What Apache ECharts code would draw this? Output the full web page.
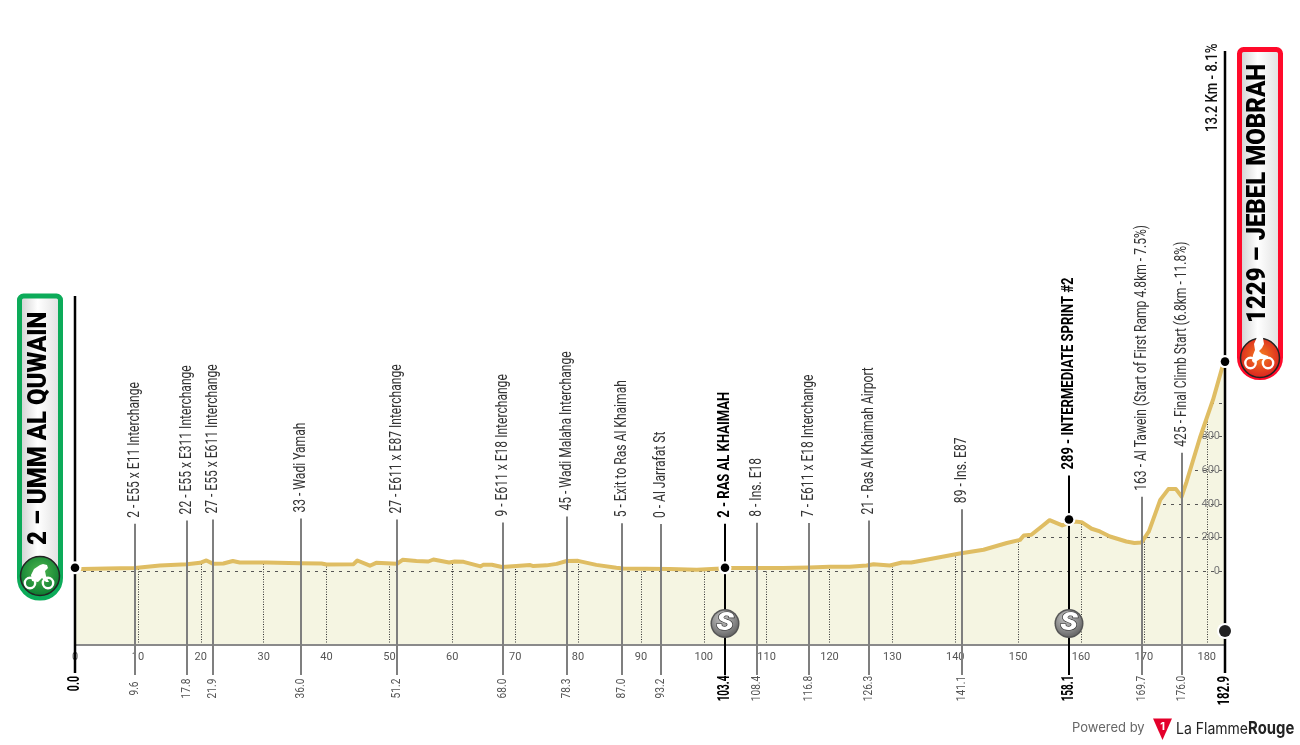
<!DOCTYPE html>
<html><head><meta charset="utf-8">
<style>html,body{margin:0;padding:0;background:#fff}#c{width:1300px;height:745px}</style>
<script src="https://cdn.jsdelivr.net/npm/echarts@6/dist/echarts.min.js"></script>
</head><body><div id="c"></div>
<script>
// ---------- data ----------
const profileKm = [0,1.06,5,9.54,13.5,17.8,19.9,20.9,22,23.6,25.1,26.2,30.5,35.8,39.2,40,44.3,44.9,46.9,47.9,51.2,52.1,54.3,56.2,57,59.5,60.4,61.8,64.5,64.9,66.3,67.9,70.2,72.4,72.9,75,76.6,78.2,80,82.9,86.1,87.2,90.9,94.6,98.9,102,103.4,104.4,108.4,112.6,116.8,120,123.2,125.9,127,129.6,131.5,133,135.4,140.7,144.5,148.2,150.3,150.9,152.1,153.9,155,157,158.1,159,160.1,161.7,163,164.6,167.2,168.5,169.6,170.8,172.6,173.9,175.1,176,176.8,178.9,181,182.5,182.9];
const profileElev = [12,12,15,18,33,41,49,63,43,45,60,51,51,47,45,39,41,63,32,49,43,67,60,57,69,51,57,55,28,37,38,24,30,36,30,34,43,60,61,37,20,16,14,12,8,14,16,18,18,18,22,26,26,33,41,33,51,51,67,105,127,167,186,212,216,270,303,272,285,295,291,252,236,206,176,167,170,236,424,488,488,444,533,792,1020,1218,1229];
const poiKm = [9.6,17.8,21.9,36.0,51.2,68.0,78.3,87.0,93.2,103.4,108.4,116.8,126.3,141.1,158.1,169.7,176.0];
const poiElev = [2,22,27,33,27,9,45,5,0,2,8,7,21,89,289,163,425];
const poiLabels = ['2 - E55 x E11 Interchange','22 - E55 x E311 Interchange','27 - E55 x E611 Interchange','33 - Wadi Yamah','27 - E611 x E87 Interchange','9 - E611 x E18 Interchange','45 - Wadi Malaha Interchange','5 - Exit to Ras Al Khaimah','0 - Al Jarrafat St','2 - RAS AL KHAIMAH','8 - Ins. E18','7 - E611 x E18 Interchange','21 - Ras Al Khaimah Airport','89 - Ins. E87','289 - INTERMEDIATE SPRINT #2','163 - Al Tawein (Start of First Ramp 4.8km - 7.5%)','425 - Final Climb Start (6.8km - 11.8%)'];
const poiMajor = [0,0,0,0,0,0,0,0,0,1,0,0,0,0,1,0,0];
const sprintKm = [103.4,158.1];
const sprintElev = [2,289];
const startKm = 0, startElev = 2, startName = '2 – UMM AL QUWAIN';
const finishKm = 182.9, finishElev = 1229, finishName = '1229 – JEBEL MOBRAH';
const climbLabel = '13.2 Km - 8.1%';
const elevTicks = [0,200,400,600,800,1000];
const elevTickLabels = [0,200,400,600,800];

// ---------- styling ----------
const FONT = 'Roboto';
const NARROW = '"Liberation Sans Narrow", Roboto, sans-serif';
const rows = profileKm.map((k,i)=>[k,profileElev[i]]);
const chart = echarts.init(document.getElementById('c'),null,{renderer:'canvas'});

function vtext(x,y,text,font,sx,fill,align){
  return {type:'text',x:x,y:y,rotation:Math.PI/2,scaleX:sx,silent:true,
    style:{text:text,font:font,fill:fill,textAlign:align||'left',textVerticalAlign:'middle'}};
}
const fmt = k=>k.toFixed(1);

function renderPoi(params,api){
  const km=api.value(0), el=api.value(1), major=api.value(3);
  const p=api.coord([km,el]);
  const x=Math.round(p[0]);
  const top=p[1]-47;
  const col=major?'#000':'#7f7f7f';
  const kids=[
    {type:'line',silent:true,shape:{x1:x,y1:top,x2:x,y2:675},style:{stroke:col,lineWidth:2}},
    vtext(x,top-6,api.value(2),(major?'700 17px ':'400 17px ')+FONT,major?0.765:0.71,major?'#000':'#333'),
    vtext(x,688.5,fmt(km),(major?'700 16px ':'400 13px ')+FONT,major?0.62:0.78,major?'#000':'#555','center')
  ];
  return {type:'group',children:kids};
}
function dot(x,y,r,halo,fill){
  return [{type:'circle',silent:true,shape:{cx:x,cy:y,r:halo},style:{fill:'#fff'}},
          {type:'circle',silent:true,shape:{cx:x,cy:y,r:r},style:{fill:fill||'#000'}}];
}
function renderSprint(params,api){
  const km=api.value(0), el=api.value(1);
  const p=api.coord([km,el]); const x=Math.round(p[0]);
  const b=api.coord([km,-440])[1]-21.5;
  return {type:'group',children:[].concat(dot(x,p[1]-3,4.3,6.5),[
    {type:'circle',silent:true,shape:{cx:x,cy:b,r:14.5},style:{fill:'#555'}},
    {type:'circle',silent:true,shape:{cx:x,cy:b,r:13},style:{fill:{type:'radial',x:.4,y:.3,r:.85,colorStops:[{offset:0,color:'#c4c4c4'},{offset:.6,color:'#858585'},{offset:1,color:'#565656'}]}}},
    {type:'text',silent:true,x:x,y:b,scaleX:1.15,style:{text:'S',font:'italic 900 25px '+FONT,fill:'#fff',stroke:'#333',lineWidth:1.2,textAlign:'center',textVerticalAlign:'middle'}}
  ])};
}
function renderEnds(params,api){
  const km=api.value(0), el=api.value(1), isEnd=api.value(2);
  const p=api.coord([km,el]); const x=Math.round(p[0]);
  const top=isEnd?51:296;
  const b=api.coord([km,-440])[1];
  const kids=[{type:'line',silent:true,shape:{x1:x,y1:top,x2:x,y2:673},style:{stroke:'#000',lineWidth:2.5}}];
  kids.push.apply(kids,dot(x,p[1]-3,4.3,6.5));
  kids.push(vtext(x,676,fmt(km),'700 17px '+FONT,isEnd?0.67:0.62,'#000','right'));
  if(isEnd){
    kids.push.apply(kids,dot(x,b-14,6,8,'#222'));
    kids.push(vtext(x-12,132,climbLabel,'500 17px '+FONT,0.775,'#111'));
  }
  return {type:'group',children:kids};
}

function capsule(x,y,w,h,col,name,textX,textY,cy,iconFill,body){
  const cx=x+w/2, els=[];
  els.push({type:'rect',silent:true,shape:{x:x+2.5,y:y+2.5,width:w-5,height:h-5,r:[4,4,20,20]},
    style:{stroke:col,lineWidth:5,fill:{type:'linear',x:0,y:0,x2:1,y2:0,colorStops:[{offset:0,color:'#c9c9c9'},{offset:.45,color:'#fff'},{offset:1,color:'#dcdcdc'}]}}});
  els.push({type:'text',silent:true,x:textX,y:textY,rotation:Math.PI/2,scaleX:0.96,style:{text:name,font:'900 25px '+FONT,fill:'#000',textAlign:'left',textVerticalAlign:'middle'}});
  els.push({type:'circle',silent:true,shape:{cx:cx,cy:cy,r:19.5},style:{fill:iconFill,stroke:'#222',lineWidth:1.5}});
  const wy=cy+(body.wy||7);
  [-body.wx1,body.wx2].forEach(dx=>{
    els.push({type:'circle',silent:true,shape:{cx:cx+dx,cy:wy,r:5.2},style:{fill:'none',stroke:'#fff',lineWidth:2.4}});
  });
  els.push({type:'polygon',silent:true,shape:{points:body.pts.map(q=>[cx+q[0],cy+q[1]])},style:{fill:'#fff'}});
  return els;
}
const greenBody={wx1:10,wx2:8,wy:7,pts:[[-8,5],[-9,-1],[-6,-7],[0,-11],[3,-12],[7,-11],[8,-8],[5,-5],[6,0],[9,6],[6,6],[2,2],[-2,6]]};
const redBody={wx1:9.5,wx2:8,wy:5,pts:[[-3,-21],[0,-24],[3,-20],[4,-14],[2,-10],[-1,-7],[2,-4],[8,-2],[8,1],[0,1],[-6,5],[-8,3],[-7,-3],[-5,-8],[-6,-14]]};

const graphic=[].concat(
  capsule(17,293.5,46,307,'#0cab59',startName,39.5,545,576,{type:'radial',x:.5,y:.4,r:.6,colorStops:[{offset:0,color:'#4fb84f'},{offset:1,color:'#0a7a30'}]},greenBody),
  capsule(1237,47,46,333,'#ff0a2a',finishName,1259,323,358,{type:'radial',x:.5,y:.45,r:.6,colorStops:[{offset:0,color:'#f58220'},{offset:1,color:'#d81820'}]},redBody),
  [
    {type:'text',silent:true,x:1072,y:728,style:{text:'Powered by',font:'400 13px Inter',fill:'#666',textAlign:'left',textVerticalAlign:'middle'}},
    {type:'polygon',silent:true,shape:{points:[[1153,718.5],[1172,718.5],[1162.5,740]]},style:{fill:'#e4002b'}},
    {type:'text',silent:true,x:1162.5,y:726.5,style:{text:'1',font:'700 11px Inter',fill:'#fff',textAlign:'center',textVerticalAlign:'middle'}},
    {type:'text',silent:true,x:1176,y:729,scaleX:0.85,style:{text:'{a|La Flamme}{b|Rouge}',rich:{a:{font:'400 16.5px Inter',fill:'#222'},b:{font:'700 17.5px Inter',fill:'#222'}},textAlign:'left',textVerticalAlign:'middle'}}
  ]);

chart.setOption({
  animation:false,
  backgroundColor:'#fff',
  graphic:{elements:graphic},
  grid:{left:75,right:75,top:44,bottom:100,show:true,backgroundColor:'#f5f5e2',borderWidth:0,containLabel:false},
  xAxis:{type:'value',min:0,max:finishKm,interval:10,
    axisLine:{onZero:false,lineStyle:{color:'#8a8a8a',width:2}},axisTick:{show:false},
    axisLabel:{showMaxLabel:false,margin:7,fontFamily:NARROW,fontSize:11,color:'#555'},
    splitLine:{show:true,showMaxLine:false,lineStyle:{type:[1,1.5],color:'#333',width:1}}},
  yAxis:[
    {type:'value',min:-440,max:3137.4,position:'left',axisLine:{show:false},
     axisTick:{show:false,customValues:elevTicks},axisLabel:{show:false,customValues:elevTicks},
     splitLine:{show:true,lineStyle:{type:[3,5],color:'#555',width:1}}},
    {type:'value',min:-440,max:3137.4,position:'right',z:2,axisLine:{show:false},
     axisTick:{show:false,customValues:elevTickLabels},
     axisLabel:{inside:true,margin:5,customValues:elevTickLabels,fontFamily:NARROW,fontSize:11,color:'#777'},
     splitLine:{show:false}}
  ],
  series:[
    {name:'mask',type:'line',z:1,data:rows,symbol:'none',silent:true,lineStyle:{width:0},areaStyle:{color:'#fff',opacity:1,origin:'end'}},
    {name:'profile',type:'line',z:3,data:rows,symbol:'none',silent:true,lineStyle:{color:'#dfbd63',width:4,join:'round'}},
    {name:'poi',type:'custom',z:10,clip:false,silent:true,renderItem:renderPoi,
     encode:{x:0,y:1},data:poiKm.map((k,i)=>[k,poiElev[i],poiLabels[i],poiMajor[i]])},
    {name:'sprint',type:'custom',z:11,clip:false,silent:true,renderItem:renderSprint,
     encode:{x:0,y:1},data:sprintKm.map((k,i)=>[k,sprintElev[i]])},
    {name:'ends',type:'custom',z:12,clip:false,silent:true,renderItem:renderEnds,
     encode:{x:0,y:1},data:[[startKm,startElev,0],[finishKm,finishElev,1]]}
  ]
});
</script></body></html>
